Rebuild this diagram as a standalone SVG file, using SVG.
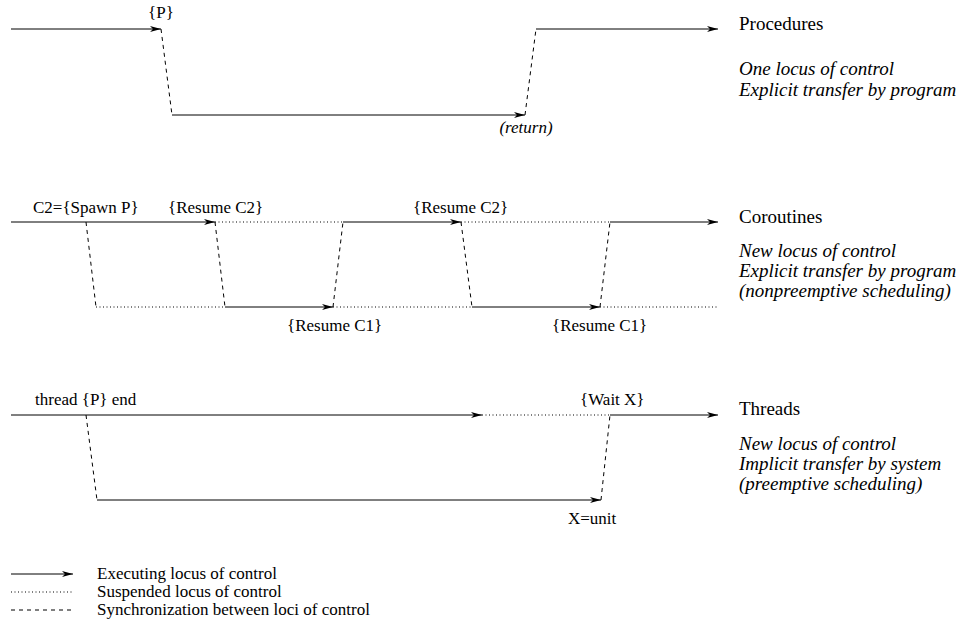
<svg xmlns="http://www.w3.org/2000/svg" width="975" height="627" viewBox="0 0 975 627">
<defs>
<marker id="ah" viewBox="0 0 11 6" refX="11" refY="3" markerWidth="11" markerHeight="6" orient="auto" markerUnits="userSpaceOnUse">
<path d="M0,0 L11,3 L0,6 L3,3 Z" fill="#000"/>
</marker>
<style>
.ln{stroke:#000;stroke-width:1;fill:none}
.ex{marker-end:url(#ah)}
.su{stroke-dasharray:1 2.5}
.sy{stroke-dasharray:4 4}
.lb{font-family:"Liberation Serif","Times New Roman",serif;font-size:17px;fill:#000}
.tt{font-family:"Liberation Serif","Times New Roman",serif;font-size:19px;fill:#000}
.it{font-family:"Liberation Serif","Times New Roman",serif;font-size:19px;font-style:italic;fill:#000}
.ilb{font-family:"Liberation Serif","Times New Roman",serif;font-size:17px;font-style:italic;fill:#000}
</style>
</defs>
<rect width="975" height="627" fill="#fff"/>
<g id="connectors">
<!-- Procedures -->
<line class="ln ex" x1="11" y1="29" x2="161" y2="29"/>
<line class="ln sy" x1="161" y1="29" x2="172" y2="115"/>
<line class="ln ex" x1="172" y1="115" x2="525" y2="115"/>
<line class="ln sy" x1="525" y1="115" x2="536" y2="29"/>
<line class="ln ex" x1="536" y1="29" x2="718" y2="29"/>
<!-- Coroutines -->
<line class="ln ex" x1="11" y1="222" x2="215" y2="222"/>
<line class="ln sy" x1="86" y1="222" x2="96" y2="307"/>
<line class="ln su" x1="96" y1="307" x2="225" y2="307"/>
<line class="ln sy" x1="215" y1="222" x2="225" y2="307"/>
<line class="ln su" x1="215" y1="222" x2="343" y2="222"/>
<line class="ln ex" x1="225" y1="307" x2="333" y2="307"/>
<line class="ln sy" x1="333" y1="307" x2="343" y2="222"/>
<line class="ln ex" x1="343" y1="222" x2="461" y2="222"/>
<line class="ln sy" x1="461" y1="222" x2="472" y2="307"/>
<line class="ln su" x1="333" y1="307" x2="472" y2="307"/>
<line class="ln su" x1="461" y1="222" x2="610" y2="222"/>
<line class="ln ex" x1="472" y1="307" x2="600" y2="307"/>
<line class="ln sy" x1="600" y1="307" x2="610" y2="222"/>
<line class="ln ex" x1="610" y1="222" x2="718" y2="222"/>
<line class="ln su" x1="600" y1="307" x2="718" y2="307"/>
<!-- Threads -->
<line class="ln ex" x1="11" y1="415" x2="482" y2="415"/>
<line class="ln su" x1="482" y1="415" x2="610" y2="415"/>
<line class="ln ex" x1="610" y1="415" x2="718" y2="415"/>
<line class="ln sy" x1="86" y1="415" x2="97" y2="500"/>
<line class="ln ex" x1="97" y1="500" x2="601" y2="500"/>
<line class="ln sy" x1="601" y1="500" x2="610" y2="415"/>
<!-- Legend -->
<line class="ln ex" x1="11" y1="574" x2="73" y2="574"/>
<line class="ln su" x1="11" y1="592" x2="73" y2="592"/>
<line class="ln sy" x1="11" y1="610" x2="73" y2="610"/>
</g>
<g id="procedures">
<text class="lb" x="161" y="18" text-anchor="middle">{P}</text>
<text class="ilb" x="526" y="133" text-anchor="middle">(return)</text>
<text class="tt" x="739" y="30">Procedures</text>
<text class="it" x="739" y="75">One locus of control</text>
<text class="it" x="739" y="96">Explicit transfer by program</text>
</g>
<g id="coroutines">
<text class="lb" x="33" y="213">C2={Spawn P}</text>
<text class="lb" x="168" y="213">{Resume C2}</text>
<text class="lb" x="413" y="213">{Resume C2}</text>
<text class="lb" x="287" y="331">{Resume C1}</text>
<text class="lb" x="552" y="331">{Resume C1}</text>
<text class="tt" x="739" y="223">Coroutines</text>
<text class="it" x="739" y="257">New locus of control</text>
<text class="it" x="739" y="277">Explicit transfer by program</text>
<text class="it" x="739" y="297">(nonpreemptive scheduling)</text>
</g>
<g id="threads">
<text class="lb" x="35" y="405">thread {P} end</text>
<text class="lb" x="580" y="405">{Wait X}</text>
<text class="lb" x="568" y="524">X=unit</text>
<text class="tt" x="739" y="415">Threads</text>
<text class="it" x="739" y="450">New locus of control</text>
<text class="it" x="739" y="470">Implicit transfer by system</text>
<text class="it" x="739" y="490">(preemptive scheduling)</text>
</g>
<g id="legend">
<text class="lb" x="97" y="579">Executing locus of control</text>
<text class="lb" x="97" y="597">Suspended locus of control</text>
<text class="lb" x="97" y="615">Synchronization between loci of control</text>
</g>
</svg>
